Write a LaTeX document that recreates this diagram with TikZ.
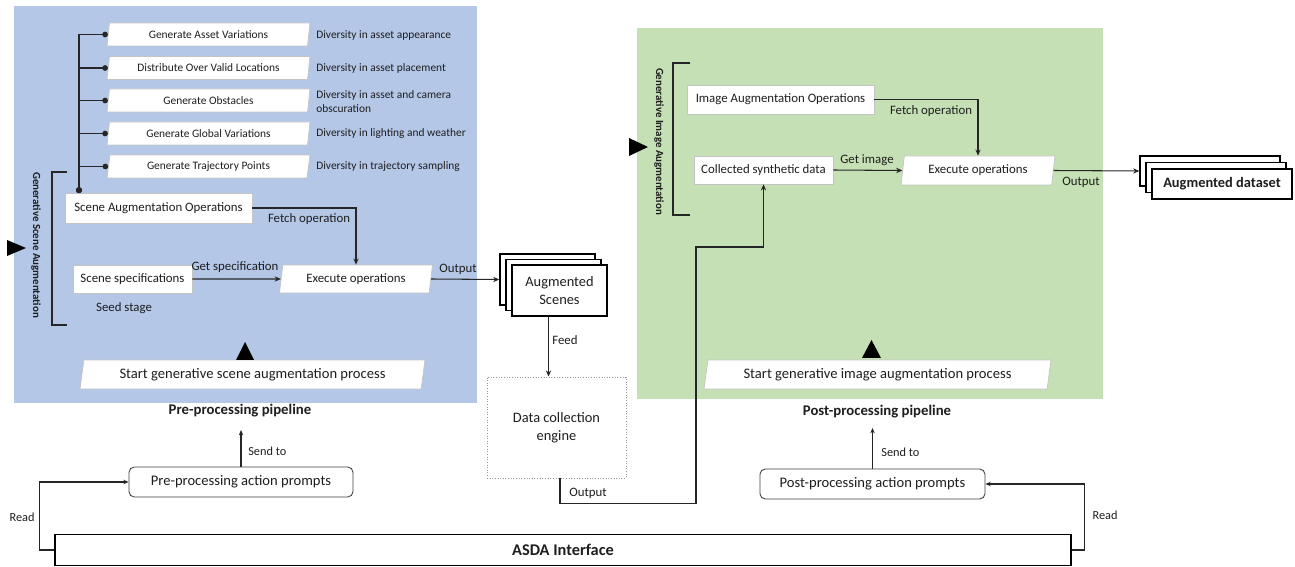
\documentclass[tikz,border=0pt]{standalone}
\usepackage{fontspec}
\setmainfont{Carlito}
\usetikzlibrary{shapes.geometric,arrows.meta,calc}
\definecolor{bluebg}{HTML}{B4C7E7}
\definecolor{greenbg}{HTML}{C5E0B4}
\definecolor{txt}{HTML}{1E1E1E}
\definecolor{lightbd}{HTML}{C4C4C4}
\tikzset{
  every node/.style={font=\fontsize{7.3}{8.5}\selectfont, text=txt},
  conn/.style={draw=black!85, line width=0.6pt},
  arr/.style={conn, -{Stealth[length=3.5pt,width=3pt]}},
  dotconn/.style={conn, {Circle[length=3.2pt]}-{Circle[length=3.2pt]}},
  panelbox/.style={draw=lightbd, fill=white, line width=0.4pt, inner sep=0pt},
  para/.style={panelbox, shape=trapezium, trapezium left angle=73, trapezium right angle=107, trapezium stretches body},
  brbox/.style={para, minimum width=4.06cm, minimum height=0.46cm, font=\fontsize{6.5}{7.5}\selectfont},
  divtext/.style={anchor=west, font=\fontsize{6.5}{7.8}\selectfont, align=left, inner sep=0pt},
  lbl/.style={font=\fontsize{7.3}{8.5}\selectfont, inner sep=0pt},
  stackbox/.style={draw=black, fill=white, line width=0.8pt, inner sep=0pt},
  prompt/.style={draw=black!75, fill=white, line width=0.5pt, rounded corners=3pt, minimum height=0.6cm, font=\fontsize{8.3}{9.5}\selectfont},
  pipelabel/.style={font=\bfseries\fontsize{8.4}{10}\selectfont, inner sep=0pt},
  vertlabel/.style={rotate=-90, font=\bfseries\fontsize{6.2}{7}\selectfont, inner sep=0pt},
  smalllbl/.style={font=\fontsize{7}{8}\selectfont, inner sep=0pt}
}
\begin{document}
\begin{tikzpicture}[x=0.02cm, y=-0.02cm]
\useasboundingbox (0,0) rectangle (1295,567);
% panels
\fill[bluebg] (14,6) rectangle (477,403);
\fill[greenbg] (637,28) rectangle (1103,399);

% ---------- left panel ----------
\node[brbox] (b1) at (208.5,34.5) {Generate Asset Variations};
\node[brbox] (b2) at (208.5,68) {Distribute Over Valid Locations};
\node[brbox] (b3) at (208.5,100.5) {Generate Obstacles};
\node[brbox] (b4) at (208.5,133.5) {Generate Global Variations};
\node[brbox] (b5) at (208.5,166.5) {Generate Trajectory Points};
\node[divtext] (d1) at (316,35) {Diversity in asset appearance};
\node[divtext] (d2) at (316,68) {Diversity in asset placement};
\node[divtext] (d3) at (316,101.5) {Diversity in asset and camera\\obscuration};
\node[divtext] (d4) at (316,134) {Diversity in lighting and weather};
\node[divtext] (d5) at (316,167) {Diversity in trajectory sampling};

\node[panelbox, minimum width=3.74cm, minimum height=0.6cm] (sao) at (158.5,208) {Scene Augmentation Operations};
\node[panelbox, minimum width=2.38cm, minimum height=0.56cm] (spec) at (132.5,279) {Scene specifications};
\node[para, minimum width=3.06cm, minimum height=0.56cm] (exec1) at (356,279) {Execute operations};
\node[lbl] (seed) at (124,308) {Seed stage};

\coordinate (trunk) at (79,193);
\foreach \b in {b1,b2,b3,b4,b5}{
  \draw[dotconn] (trunk) |- (\b.west);
}
\draw[arr] (sao.east) -| (exec1.north);
\node[lbl] (fetch1) at (309,219) {Fetch operation};
\draw[arr] (spec.east) -- (exec1.west);
\node[lbl] (getspec) at (235,267) {Get specification};

\draw[conn] (67,172) -- (52,172) -- (52,325) -- (67,325);
\node[vertlabel] (gsa) at (36,245) {Generative Scene Augmentation};
\fill[black] (7,240) -- (26,248) -- (7,256) -- cycle;

\node[para, minimum width=6.9cm, minimum height=0.58cm, font=\fontsize{8.3}{9.5}\selectfont] (start1) at (252.5,374.5) {Start generative scene augmentation process};
\fill[black] (236,360) -- (245,342) -- (254,360) -- cycle;
\node[pipelabel] (prelabel) at (240,411) {Pre-processing pipeline};

% ---------- augmented scenes / data collection ----------
\node[stackbox, minimum width=1.9cm, minimum height=1.02cm] (as3) at (547.5,279.5) {};
\node[stackbox, minimum width=1.9cm, minimum height=1.02cm] (as2) at (553.5,285) {};
\node[stackbox, minimum width=1.9cm, minimum height=1.02cm, align=center, font=\fontsize{8.2}{10}\selectfont] (as1) at (559.5,290.5) {Augmented\\Scenes};
\draw[arr] (exec1.east) -- (as3.west);
\node[lbl] (out1) at (458,269) {Output};

\node[draw=black!40, densely dotted, line width=0.5pt, fill=white, minimum width=2.78cm, minimum height=2.02cm, align=center, font=\fontsize{8.2}{10}\selectfont] (dce) at (556.5,427.5) {Data collection\\engine};
\draw[arr] ([xshift=-0.22cm]as1.south) -- ([xshift=-0.22cm]as1.south |- dce.north);
\node[lbl, anchor=west] (feed) at (552,340) {Feed};

% ---------- right panel ----------
\node[panelbox, minimum width=3.74cm, minimum height=0.58cm] (iao) at (780.5,99.5) {Image Augmentation Operations};
\node[panelbox, minimum width=2.78cm, minimum height=0.56cm] (csd) at (763.5,170) {Collected synthetic data};
\node[para, minimum width=3.08cm, minimum height=0.58cm] (exec2) at (978,170.5) {Execute operations};
\draw[arr] (iao.east) -| (exec2.north);
\node[lbl] (fetch2) at (931,111) {Fetch operation};
\draw[arr] (csd.east) -- (exec2.west);
\node[lbl] (getimg) at (867,160) {Get image};

\draw[conn] (690,63) -- (673,63) -- (673,215) -- (690,215);
\node[vertlabel] (gia) at (659,141.5) {Generative Image Augmentation};
\fill[black] (629,138) -- (648,147) -- (629,156) -- cycle;

\node[stackbox, minimum width=2.8cm, minimum height=0.6cm] (ad3) at (1210,171) {};
\node[stackbox, minimum width=2.8cm, minimum height=0.6cm] (ad2) at (1216,177.5) {};
\node[stackbox, minimum width=2.8cm, minimum height=0.6cm, font=\bfseries\fontsize{8.2}{10}\selectfont] (ad1) at (1222,184) {Augmented dataset};
\draw[arr] (exec2.east) -- (ad3.west);
\node[lbl] (out2) at (1081,182) {Output};

\node[para, minimum width=6.94cm, minimum height=0.58cm, font=\fontsize{8.3}{9.5}\selectfont] (start2) at (877.5,374.5) {Start generative image augmentation process};
\fill[black] (862,358) -- (871.5,340) -- (881,358) -- cycle;
\node[pipelabel] (postlabel) at (877,412) {Post-processing pipeline};

% data collection output to collected synthetic data
\draw[arr] ([xshift=0.07cm]dce.south) -- ++(0,25) -| (696,247) -| (csd.south);
\node[lbl] (out3) at (588,493) {Output};

% ---------- bottom ----------
\node[prompt, minimum width=4.48cm] (pre) at (241,482) {Pre-processing action prompts};
\node[prompt, minimum width=4.5cm] (post) at (872.5,484) {Post-processing action prompts};
\node[draw=black, line width=0.8pt, fill=white, minimum width=20.32cm, minimum height=0.62cm, font=\bfseries\fontsize{9.3}{11}\selectfont] (asda) at (563,550) {ASDA Interface};

\coordinate (pretop) at (241,430);
\coordinate (posttop) at (872.5,428);
\draw[conn, -{Stealth[length=3pt,width=2.5pt]}] (pre.north) -- (pretop);
\node[smalllbl, anchor=west] (send1) at (248,451) {Send to};
\draw[conn, -{Stealth[length=3pt,width=2.5pt]}] (post.north) -- (posttop);
\node[smalllbl, anchor=west] (send2) at (881,452) {Send to};

\draw[conn, -{Stealth[length=3pt,width=2.5pt]}] (asda.west) -- ++(-15,0) |- (pre.west);
\node[smalllbl] (read1) at (22,517) {Read};
\draw[conn, -{Stealth[length=3pt,width=2.5pt]}] (asda.east) -- ++(13,0) |- (post.east);
\node[smalllbl] (read2) at (1105,515) {Read};
\end{tikzpicture}
\end{document}
